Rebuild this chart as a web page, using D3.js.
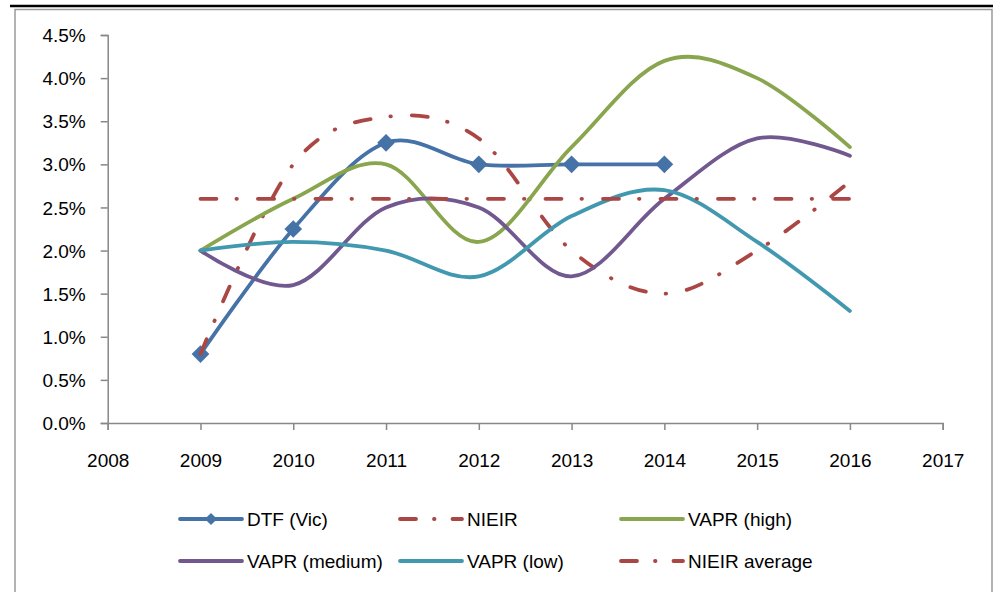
<!DOCTYPE html>
<html>
<head>
<script src="https://d3js.org/d3.v7.min.js"></script>
<style>
  body { margin: 0; background: #fff; }
  text { font-family: "Liberation Sans", Arial, sans-serif; fill: #000; }
</style>
</head>
<body>
<div id="chart"></div>
<script>
// data
var years = [2009, 2010, 2011, 2012, 2013, 2014, 2015, 2016];
var xTicks = [2008, 2009, 2010, 2011, 2012, 2013, 2014, 2015, 2016, 2017];
var yTicks = [0, 0.5, 1, 1.5, 2, 2.5, 3, 3.5, 4, 4.5];

var dtfVic = [0.8, 2.25, 3.25, 3.0, 3.0, 3.0];
var nieir = [0.8, 3.0, 3.55, 3.3, 2.0, 1.5, 2.0, 2.8];
var vaprHigh = [2.0, 2.6, 3.0, 2.1, 3.2, 4.2, 4.0, 3.2];
var vaprMedium = [2.0, 1.6, 2.5, 2.5, 1.7, 2.6, 3.3, 3.1];
var vaprLow = [2.0, 2.1, 2.0, 1.7, 2.4, 2.7, 2.1, 1.3];
var nieirAverage = [2.6, 2.6, 2.6, 2.6, 2.6, 2.6, 2.6, 2.6];

var dashDot = "16 20 0.5 21";

var series = [
  { name: "DTF (Vic)", values: dtfVic, color: "#4572A7", dash: null, marker: true },
  { name: "NIEIR", values: nieir, color: "#AA4643", dash: dashDot, marker: false },
  { name: "VAPR (high)", values: vaprHigh, color: "#89A54E", dash: null, marker: false },
  { name: "VAPR (medium)", values: vaprMedium, color: "#71588F", dash: null, marker: false },
  { name: "VAPR (low)", values: vaprLow, color: "#4198AF", dash: null, marker: false },
  { name: "NIEIR average", values: nieirAverage, color: "#AA4643", dash: dashDot, marker: false }
];

var W = 998, H = 592;
var svg = d3.select("#chart").append("svg")
  .attr("width", W).attr("height", H);

// frame
svg.append("line")
  .attr("x1", 10).attr("x2", 993).attr("y1", 6).attr("y2", 6)
  .attr("stroke", "#000").attr("stroke-width", 2.5);
svg.append("rect")
  .attr("x", 15).attr("y", 9.5).attr("width", 977).attr("height", 600)
  .attr("fill", "none").attr("stroke", "#9a9a9a").attr("stroke-width", 1.5);

var x = d3.scaleLinear().domain([2008, 2017]).range([107.7, 942.7]);
var y = d3.scaleLinear().domain([0, 4.5]).range([423, 35]);

// axes
var xAxis = svg.append("g")
  .attr("transform", "translate(0,423)")
  .call(d3.axisBottom(x).tickValues(xTicks).tickFormat(d3.format("d")).tickSize(7).tickPadding(24));
var yAxis = svg.append("g")
  .attr("transform", "translate(107.7,0)")
  .call(d3.axisLeft(y).tickValues(yTicks).tickSize(7).tickPadding(15)
    .tickFormat(function (d) { return d.toFixed(1) + "%"; }));

[xAxis, yAxis].forEach(function (g) {
  g.select(".domain").attr("stroke", "#888").attr("stroke-width", 1.5);
  g.selectAll(".tick line").attr("stroke", "#888").attr("stroke-width", 1.5);
  g.selectAll(".tick text").style("font-size", "19px")
    .style("font-family", '"Liberation Sans", Arial, sans-serif').attr("fill", "#000");
});
yAxis.selectAll(".tick text").attr("dy", "0.35em");

var line = d3.line()
  .x(function (d, i) { return x(years[i]); })
  .y(function (d) { return y(d); })
  .curve(d3.curveCardinal.tension(0));

var diamond = d3.symbol().type(d3.symbolDiamond2);

// draw in Excel order: later series on top
series.forEach(function (s) {
  svg.append("path")
    .datum(s.values)
    .attr("d", line)
    .attr("fill", "none")
    .attr("stroke", s.color)
    .attr("stroke-width", 3.8)
    .attr("stroke-linecap", "round")
    .attr("stroke-dasharray", s.dash);
  if (s.marker) {
    svg.selectAll(null)
      .data(s.values)
      .enter().append("path")
      .attr("d", diamond.size(200))
      .attr("transform", function (d, i) { return "translate(" + x(years[i]) + "," + y(d) + ")"; })
      .attr("fill", s.color);
  }
});

// legend
var legCols = [180, 400, 621];
var legRows = [519, 561];
var leg = svg.append("g");
series.forEach(function (s, i) {
  var lx = legCols[i % 3], ly = legRows[Math.floor(i / 3)];
  leg.append("line")
    .attr("x1", lx).attr("x2", lx + 62).attr("y1", ly).attr("y2", ly)
    .attr("stroke", s.color).attr("stroke-width", 3.8)
    .attr("stroke-linecap", "round")
    .attr("stroke-dasharray", s.dash ? "16 18 0.5 18" : null);
  if (s.marker) {
    leg.append("path")
      .attr("d", diamond.size(95))
      .attr("transform", "translate(" + (lx + 31) + "," + ly + ")")
      .attr("fill", s.color);
  }
  leg.append("text")
    .attr("x", lx + 67).attr("y", ly).attr("dy", "0.35em")
    .style("font-size", "19px")
    .text(s.name);
});
</script>
</body>
</html>
